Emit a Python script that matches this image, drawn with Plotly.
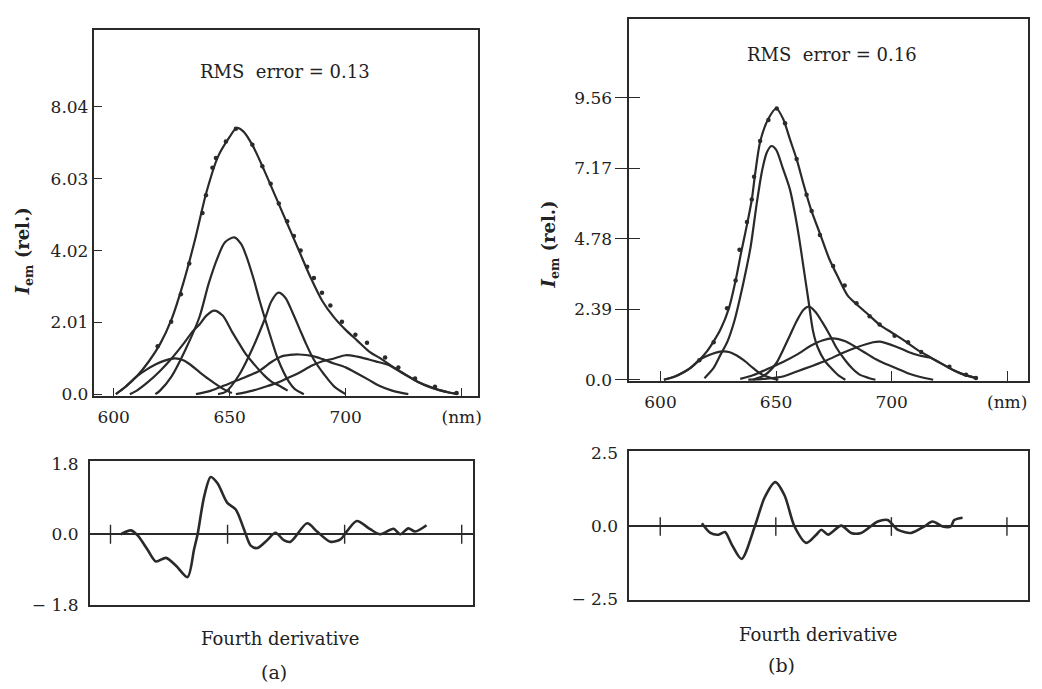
import plotly.graph_objects as go

# ---------------- panel (a): emission spectrum ----------------
a_fit_wl = [601, 605, 610, 615, 620, 625, 630, 635, 640, 645, 650, 653, 656, 660, 665, 670, 675, 680,
            685, 690, 695, 700, 705, 710, 715, 720, 725, 731, 735, 740, 745, 748.5]
a_fit_I = [0.0, 0.2, 0.5, 0.9, 1.4, 2.1, 3.1, 4.3, 5.65, 6.65, 7.2, 7.45, 7.35, 6.95, 6.25, 5.5, 4.75, 4.0,
           3.25, 2.6, 2.15, 1.8, 1.5, 1.2, 1.0, 0.78, 0.58, 0.35, 0.24, 0.12, 0.04, 0.0]

a_obs_wl = [619.0, 624.8, 629.0, 632.6, 638.3, 639.8, 642.6, 644.1, 648.4, 652.7, 659.8, 664.1, 667.7,
            671.2, 674.8, 677.7, 680.6, 683.4, 686.3, 689.8, 693.4, 698.4, 704.2, 709.2, 717.0, 722.7,
            729.9, 738.5, 747.8]
a_obs_I = [1.34, 2.03, 2.80, 3.66, 5.07, 5.57, 6.34, 6.61, 7.07, 7.43, 6.98, 6.38, 5.89,
           5.34, 4.84, 4.43, 4.02, 3.57, 3.25, 2.84, 2.48, 2.03, 1.66, 1.44, 1.03, 0.75,
           0.44, 0.21, 0.03]

a_c1_wl = [601, 605, 610, 614, 618, 622, 626.5, 630, 633, 637, 641, 645, 648, 651]
a_c1_I = [0.0, 0.2, 0.5, 0.68, 0.83, 0.94, 1.0, 0.95, 0.83, 0.62, 0.42, 0.24, 0.12, 0.03]

a_c2_wl = [607, 610, 615, 620, 625, 630, 634, 637, 640, 643.3, 647, 651, 654, 657, 660, 665, 668, 671, 675]
a_c2_I = [0.0, 0.1, 0.35, 0.65, 1.0, 1.4, 1.75, 1.95, 2.2, 2.34, 2.2, 1.75, 1.43, 1.12, 0.88, 0.52, 0.35, 0.25, 0.1]

a_c3_wl = [618, 620, 625, 631, 637, 641, 645, 648, 652, 655, 657, 660, 663, 666, 668.5, 671, 675.5, 678, 682]
a_c3_I = [0.0, 0.1, 0.5, 1.25, 2.16, 3.1, 3.85, 4.25, 4.39, 4.2, 3.9, 3.3, 2.6, 1.95, 1.43, 0.95, 0.35, 0.15, 0.0]

a_c4_wl = [645, 648.4, 654, 660, 665.5, 668, 671, 674, 677, 680, 683, 686, 691, 695, 700]
a_c4_I = [0.0, 0.07, 0.53, 1.3, 2.16, 2.6, 2.84, 2.7, 2.3, 1.85, 1.4, 1.0, 0.53, 0.22, 0.0]

a_c5_wl = [635.5, 642, 648, 655, 662.7, 668, 672, 676, 680, 685.5, 690, 695, 700, 705, 710, 714, 720, 727]
a_c5_I = [0.0, 0.1, 0.25, 0.43, 0.65, 0.9, 1.05, 1.1, 1.11, 1.07, 0.98, 0.86, 0.75, 0.58, 0.4, 0.25, 0.1, 0.0]

a_c6_wl = [652.7, 660, 665, 671, 676, 680, 685.5, 690, 695, 700, 705, 710, 714, 718.5, 725, 731, 736, 740,
           745, 748]
a_c6_I = [0.0, 0.1, 0.2, 0.33, 0.48, 0.6, 0.8, 0.92, 1.0, 1.09, 1.05, 0.97, 0.9, 0.82, 0.57, 0.35, 0.2, 0.12,
          0.04, 0.0]

# ---------------- panel (a): fourth derivative ----------------
a_d4_wl = [604.3, 608.8, 611.6, 615.9, 619.4, 623.7, 628, 632.9, 635.7, 637.2, 640, 642.8, 645.7, 649.9,
           653.5, 657, 659.9, 662.7, 666.9, 670.5, 674, 676.9, 684, 688.2, 693.9, 698.2, 701, 705.2,
           710.9, 715.2, 720.9, 723.7, 727.2, 730.1, 735]
a_d4_v = [0.0, 0.1, -0.03, -0.4, -0.69, -0.6, -0.8, -1.09, -0.38, 0.0, 0.96, 1.46, 1.3, 0.8,
          0.63, 0.13, -0.29, -0.35, -0.15, 0.04, -0.15, -0.19, 0.28, 0.07, -0.19, -0.13, 0.08, 0.34,
          0.13, 0.0, 0.14, 0.0, 0.15, 0.07, 0.23]

# ---------------- panel (b): emission spectrum ----------------
b_fit_wl = [601.5, 606, 610, 613, 616.7, 620, 623, 626, 629.6, 632.5, 635, 637.5, 639.5, 641, 643.2,
            646.8, 650.1, 653, 656, 659, 662, 665, 669, 673, 677, 681, 685, 690, 695, 700, 706, 711,
            716.5, 721, 726.6, 731, 736.6]
b_fit_I = [0.0, 0.1, 0.25, 0.4, 0.66, 0.95, 1.3, 1.71, 2.42, 3.36, 4.35, 5.28, 6.1, 7.0, 8.09,
           8.86, 9.19, 8.85, 8.15, 7.45, 6.6, 5.8, 4.95, 4.1, 3.45, 2.85, 2.55, 2.2, 1.85, 1.6, 1.3, 1.02,
           0.77, 0.57, 0.33, 0.18, 0.05]

b_obs_wl = [616.8, 623.0, 628.8, 632.5, 634.2, 637.4, 639.5, 640.5, 643.1, 646.7, 650.3, 653.9, 658.9,
            663.2, 665.4, 669.0, 674.7, 679.7, 684.8, 690.5, 694.8, 701.3, 707.1, 712.8, 725.0, 732.2,
            736.5]
b_obs_I = [0.66, 1.27, 2.42, 3.36, 4.40, 5.34, 6.11, 6.88, 8.09, 8.80, 9.19, 8.69, 7.48,
           6.27, 5.72, 4.90, 3.85, 3.19, 2.59, 2.15, 1.87, 1.49, 1.27, 0.94, 0.44, 0.17,
           0.06]

b_c1_wl = [601.5, 606, 610, 613, 616.7, 620, 624, 627.3, 630, 633, 636, 640, 643, 647, 651]
b_c1_I = [0.0, 0.1, 0.25, 0.4, 0.66, 0.8, 0.92, 0.96, 0.93, 0.82, 0.66, 0.4, 0.22, 0.08, 0.0]

b_c2_wl = [619, 623, 626, 629, 632, 634.5, 637, 639, 641.7, 644, 646, 648, 650, 653, 656, 658, 660, 662,
           664, 666, 668, 671, 674, 677, 680]
b_c2_I = [0.05, 0.4, 0.85, 1.3, 2.0, 2.8, 3.7, 4.5, 6.0, 7.1, 7.7, 7.92, 7.8, 7.15, 6.45, 5.7, 4.8, 3.75,
          2.7, 1.65, 1.1, 0.65, 0.38, 0.15, 0.0]

b_c3_wl = [640, 645, 650, 653, 656, 659, 662, 664.4, 667, 670, 673, 676, 680, 683, 686, 690, 693]
b_c3_I = [0.0, 0.15, 0.55, 1.0, 1.5, 2.0, 2.38, 2.48, 2.3, 1.95, 1.55, 1.1, 0.65, 0.38, 0.18, 0.06, 0.0]

b_c4_wl = [634.5, 640, 647, 653, 659, 665, 670, 674.5, 680, 685, 688, 693, 697, 702, 707, 712, 718]
b_c4_I = [0.03, 0.15, 0.39, 0.6, 0.85, 1.15, 1.33, 1.4, 1.3, 1.08, 0.94, 0.7, 0.55, 0.39, 0.22, 0.1, 0.0]

b_c5_wl = [638, 645, 653, 659, 665, 672, 678, 685, 692, 695, 702, 707, 712, 716.5, 721, 726.6, 731, 736.6]
b_c5_I = [0.0, 0.03, 0.11, 0.28, 0.45, 0.66, 0.88, 1.1, 1.27, 1.29, 1.12, 0.95, 0.82, 0.75, 0.57, 0.33,
          0.18, 0.05]

# ---------------- panel (b): fourth derivative ----------------
b_d4_wl = [618, 621.7, 625.2, 628, 630.9, 635.2, 640.9, 645.2, 649.8, 653.8, 658.1, 663.2, 667.5,
           669.7, 672.6, 678.3, 682.6, 686.9, 694.1, 698.4, 702.7, 708.5, 714.2, 717.8, 722.2, 725.7,
           727.2, 730.8]
b_d4_v = [0.11, -0.22, -0.28, -0.19, -0.61, -1.11, 0.0, 1.0, 1.52, 1.06, 0.0, -0.56, -0.28,
          -0.11, -0.28, 0.03, -0.22, -0.22, 0.17, 0.22, -0.11, -0.22, 0.0, 0.17, 0.0, 0.0,
          0.22, 0.3]

# ---------------- tick labels / text ----------------
wl_ticks = [600, 650, 700, 750]
wl_ticktext = ["600", "650", "700", "(nm)"]
a_yticks = [0.0, 2.01, 4.02, 6.03, 8.04]
a_yticktext = ["0.0", "2.01", "4.02", "6.03", "8.04"]
b_yticks = [0.0, 2.39, 4.78, 7.17, 9.56]
b_yticktext = ["0.0", "2.39", "4.78", "7.17", "9.56"]
a_dticks = [-1.8, 0.0, 1.8]
a_dticktext = ["\u2212 1.8", "0.0", "1.8"]
b_dticks = [-2.5, 0.0, 2.5]
b_dticktext = ["\u2212 2.5", "0.0", "2.5"]

INK = "#2a2a2a"
TXT = "#222222"
SERIF = "DejaVu Serif"
W, H = 1042, 689


def px_x(p):
    return p / W


def px_y(p):
    return 1 - p / H


fig = go.Figure()


def curve(x, y, xa, ya, width=2.0):
    fig.add_trace(go.Scatter(x=x, y=y, mode="lines", xaxis=xa, yaxis=ya,
                             line=dict(color=INK, width=width, shape="spline", smoothing=0.8),
                             showlegend=False, hoverinfo="skip"))


def dots(x, y, xa, ya):
    fig.add_trace(go.Scatter(x=x, y=y, mode="markers", xaxis=xa, yaxis=ya,
                             marker=dict(color=INK, size=4.5),
                             showlegend=False, hoverinfo="skip"))


# panel (a) top
for cx, cy in [(a_c1_wl, a_c1_I), (a_c2_wl, a_c2_I), (a_c3_wl, a_c3_I),
               (a_c4_wl, a_c4_I), (a_c5_wl, a_c5_I), (a_c6_wl, a_c6_I)]:
    curve(cx, cy, "x", "y", 2.2)
curve(a_fit_wl, a_fit_I, "x", "y", 2.2)
dots(a_obs_wl, a_obs_I, "x", "y")

# panel (a) derivative
curve(a_d4_wl, a_d4_v, "x2", "y2", 2.6)

# panel (b) top
for cx, cy in [(b_c1_wl, b_c1_I), (b_c2_wl, b_c2_I), (b_c3_wl, b_c3_I),
               (b_c4_wl, b_c4_I), (b_c5_wl, b_c5_I)]:
    curve(cx, cy, "x3", "y3", 2.2)
curve(b_fit_wl, b_fit_I, "x3", "y3", 2.2)
dots(b_obs_wl, b_obs_I, "x3", "y3")

# panel (b) derivative
curve(b_d4_wl, b_d4_v, "x4", "y4", 2.6)

tickfont = dict(family=SERIF, size=17, color=TXT)
frame = dict(showline=True, mirror=True, linecolor=INK, linewidth=1.6, showgrid=False, zeroline=False)

fig.update_layout(
    width=W, height=H, margin=dict(l=0, r=0, t=0, b=0),
    paper_bgcolor="white", plot_bgcolor="white", showlegend=False,
    xaxis=dict(domain=[px_x(94), px_x(480)], range=[591.4, 757.1], anchor="y",
               tickvals=wl_ticks, ticktext=wl_ticktext, ticks="inside", ticklen=8,
               tickcolor=INK, tickwidth=1.4, tickfont=tickfont, ticklabelstandoff=5, **frame),
    yaxis=dict(domain=[px_y(398), px_y(22.7)], range=[-0.04, 10.19], anchor="x",
               tickvals=a_yticks, ticktext=a_yticktext, ticks="inside", ticklen=9,
               tickcolor=INK, tickwidth=1.4, tickfont=tickfont, **frame),
    xaxis2=dict(domain=[px_x(90), px_x(475)], range=[591.1, 754.9], anchor="y2",
                showticklabels=False, ticks="", **frame),
    yaxis2=dict(domain=[px_y(613), px_y(465)], range=[-1.80, 1.87], anchor="x2",
                tickvals=a_dticks, ticktext=a_dticktext, ticks="", tickfont=tickfont,
                ticklabelstandoff=6, **{**frame, "zeroline": True},
                zerolinecolor=INK, zerolinewidth=1.5),
    xaxis3=dict(domain=[px_x(631.7), px_x(1031.7)], range=[586.5, 758.9], anchor="y3",
                tickvals=wl_ticks, ticktext=wl_ticktext, ticks="inside", ticklen=11,
                tickcolor=INK, tickwidth=1.4, tickfont=tickfont, ticklabelstandoff=4, **frame),
    yaxis3=dict(domain=[px_y(383.5), px_y(11.7)], range=[-0.06, 12.21], anchor="x3",
                tickvals=b_yticks, ticktext=b_yticktext, ticks="outside", ticklen=12,
                tickcolor=INK, tickwidth=1.4, tickfont=tickfont, **frame),
    yaxis5=dict(domain=[px_y(383.5), px_y(11.7)], range=[-0.06, 12.21], anchor="x3",
                overlaying="y3", side="left", tickvals=b_yticks, ticks="inside", ticklen=11,
                tickcolor=INK, tickwidth=1.4, showticklabels=False, showline=False,
                showgrid=False, zeroline=False),
    xaxis4=dict(domain=[px_x(631.7), px_x(1031.7)], range=[586.6, 759.0], anchor="y4",
                showticklabels=False, ticks="", **frame),
    yaxis4=dict(domain=[px_y(608), px_y(455)], range=[-2.52, 2.58], anchor="x4",
                tickvals=b_dticks, ticktext=b_dticktext, ticks="", tickfont=tickfont,
                ticklabelstandoff=6, **{**frame, "zeroline": True},
                zerolinecolor=INK, zerolinewidth=1.5),
)

# dummy trace so the overlay axis is rendered
fig.add_trace(go.Scatter(x=[None], y=[None], xaxis="x3", yaxis="y5", showlegend=False, hoverinfo="skip"))

# wavelength tick marks crossing the zero line of the derivative panels
shapes = []
for t in wl_ticks:
    shapes.append(dict(type="line", xref="x2", yref="y2", x0=t, x1=t, y0=-0.24, y1=0.24,
                       line=dict(color=INK, width=1.4)))
    shapes.append(dict(type="line", xref="x4", yref="y4", x0=t, x1=t, y0=-0.32, y1=0.32,
                       line=dict(color=INK, width=1.4)))
fig.update_layout(shapes=shapes)


def label(text, xp, yp, size, angle=0):
    return dict(text=text, x=px_x(xp), y=px_y(yp), xref="paper", yref="paper",
                xanchor="center", yanchor="middle", textangle=angle, showarrow=False,
                font=dict(family=SERIF, size=size, color=TXT))


ytitle = "<b><i>I</i></b><sub><b>em</b></sub><b> (rel.)</b>"
ann = [
    label("RMS  error = 0.13", 286, 65, 18),
    label("RMS  error = 0.16", 835, 48, 18),
    label(ytitle, 25, 250, 18, -90),
    label(ytitle, 552, 243, 18, -90),
    label("Fourth derivative", 281, 647, 18),
    label("Fourth derivative", 821, 643, 18),
    label("(a)", 275, 682, 19),
    label("(b)", 785, 675, 19),
]
fig.update_layout(annotations=ann)

fig.write_html("out.html")
